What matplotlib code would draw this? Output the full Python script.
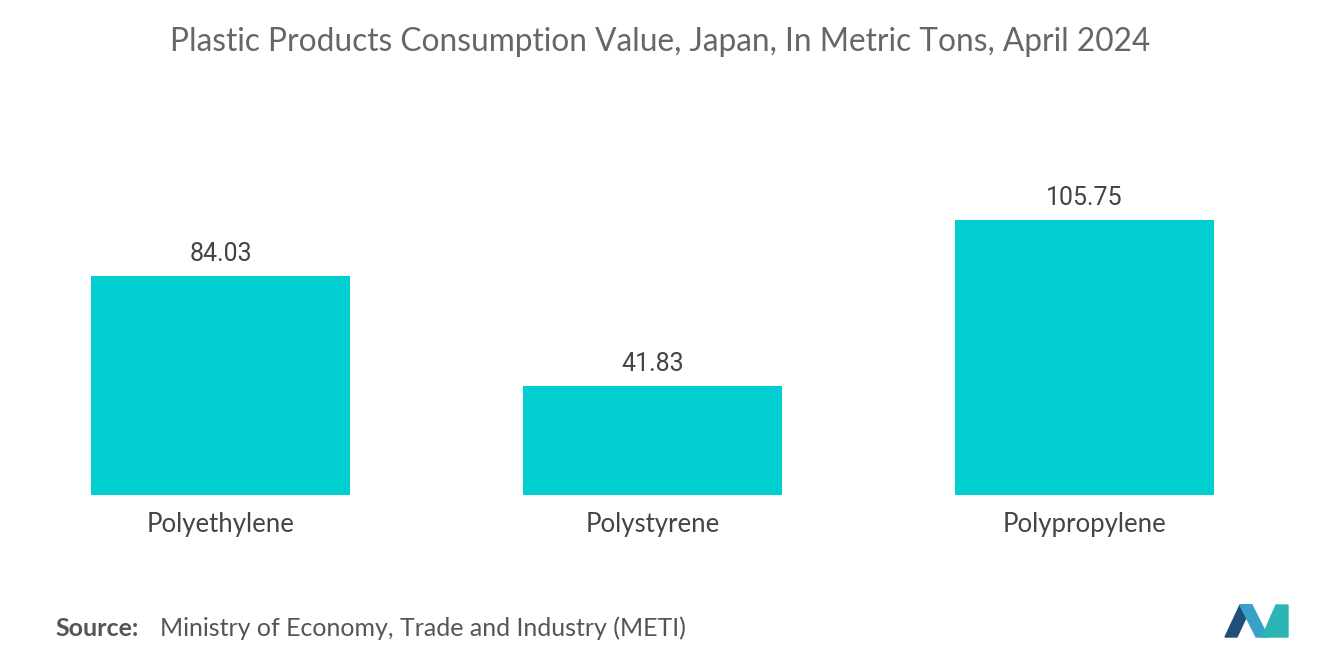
import matplotlib
matplotlib.use("Agg")
import matplotlib.pyplot as plt
from matplotlib.patches import Polygon

categories = ["Polyethylene", "Polystyrene", "Polypropylene"]
values = [84.03, 41.83, 105.75]
value_labels = ["84.03", "41.83", "105.75"]

W, H = 1320, 665
fig = plt.figure(figsize=(W / 100, H / 100), dpi=100)
ax = fig.add_axes([4.5 / W, (H - 495) / H, 1296 / W, 375 / H])

x = range(len(categories))
ax.bar(x, values, width=0.6, color="#00CED1")
for i, v in enumerate(values):
    ax.text(i, v + 4, value_labels[i], ha="center", va="bottom",
            fontsize=18, color="#444444", family="Roboto")
ax.set_xlim(-0.5, 2.5)
ax.set_ylim(0, 144.2)
ax.set_xticks(list(x))
ax.set_xticklabels(categories, fontsize=18.5, color="#444444", family="Lato")
ax.tick_params(axis="x", length=0, pad=12)
ax.set_yticks([])
for s in ax.spines.values():
    s.set_visible(False)

fig.text(0.5, 1 - 42 / H, "Plastic Products Consumption Value, Japan, In Metric Tons, April 2024",
         ha="center", va="center", fontsize=22.8, color="#666666", family="Lato")
fig.text(55 / W, 1 - 628 / H, "Source:", ha="left", va="center",
         fontsize=18, color="#555555", family="Lato", weight="bold")
fig.text(160 / W, 1 - 628 / H, "Ministry of Economy, Trade and Industry (METI)",
         ha="left", va="center", fontsize=18, color="#555555", family="Lato")

# logo
def px(pts):
    return [(a / W, 1 - b / H) for a, b in pts]
fig.patches.append(Polygon(px([(1225, 637), (1240, 605), (1252, 605), (1237, 637)]),
                           closed=True, color="#1f4e79", transform=fig.transFigure))
fig.patches.append(Polygon(px([(1240, 605), (1252, 605), (1268, 637), (1256, 637)]),
                           closed=True, color="#3aa0c8", transform=fig.transFigure))
fig.patches.append(Polygon(px([(1262, 637), (1276, 605), (1288, 605), (1288, 637)]),
                           closed=True, color="#2bb5b5", transform=fig.transFigure))

fig.savefig("out.png", dpi=100, facecolor="white")
